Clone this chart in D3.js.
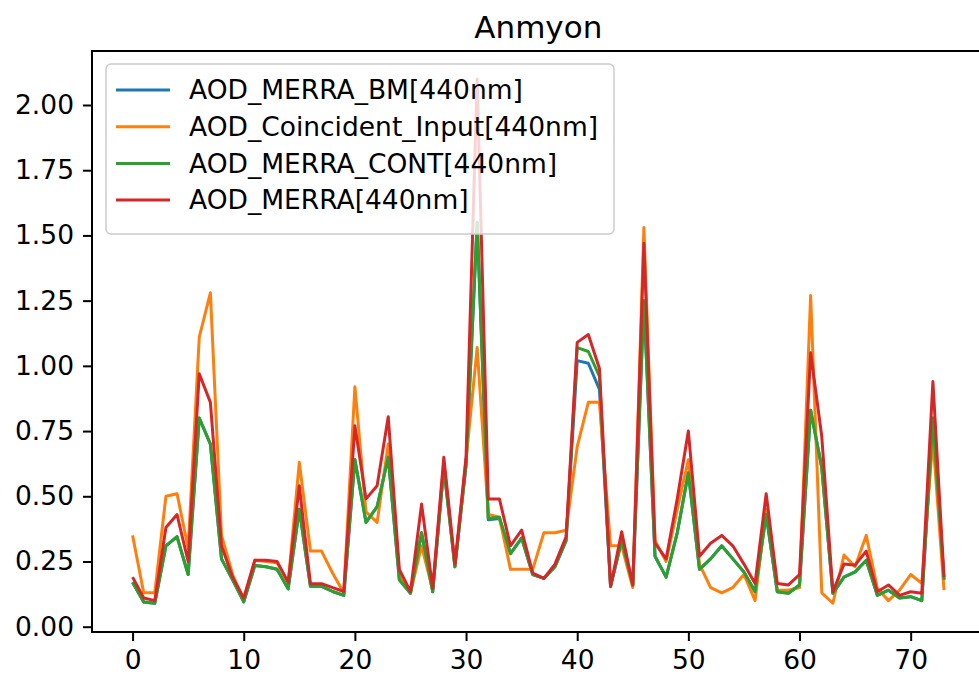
<!DOCTYPE html>
<html>
<head>
<meta charset="utf-8">
<script src="https://cdn.jsdelivr.net/npm/d3@7"></script>
<style>
  body { margin: 0; background: #fff; }
  svg { display: block; font-family: "DejaVu Sans", sans-serif; }
</style>
</head>
<body>
<svg width="979" height="677"></svg>
<script>
const title = "Anmyon";
const seriesNames = ["AOD_MERRA_BM[440nm]", "AOD_Coincident_Input[440nm]", "AOD_MERRA_CONT[440nm]", "AOD_MERRA[440nm]"];
const seriesColors = ["#1f77b4", "#ff7f0e", "#2ca02c", "#d62728"];
const xTicks = [0, 10, 20, 30, 40, 50, 60, 70];
const yTicks = [0, 0.25, 0.5, 0.75, 1, 1.25, 1.5, 1.75, 2];

const merraBM = [0.17, 0.095, 0.09, 0.31, 0.345, 0.20, 0.80, 0.70, 0.26, 0.18,
    0.095, 0.235, 0.23, 0.22, 0.145, 0.45, 0.155, 0.155, 0.135, 0.12,
    0.64, 0.40, 0.46, 0.65, 0.18, 0.128, 0.36, 0.134, 0.61, 0.23,
    0.62, 1.55, 0.41, 0.415, 0.28, 0.34, 0.20, 0.185, 0.23, 0.33,
    1.02, 1.01, 0.91, 0.155, 0.33, 0.16, 1.25, 0.27, 0.19, 0.36,
    0.59, 0.22, 0.26, 0.31, 0.26, 0.21, 0.134, 0.43, 0.134, 0.128,
    0.16, 0.83, 0.61, 0.128, 0.19, 0.21, 0.255, 0.12, 0.14, 0.11,
    0.115, 0.10, 0.80, 0.18];
const coincident = [0.35, 0.13, 0.13, 0.50, 0.51, 0.30, 1.11, 1.28, 0.35, 0.20,
    0.10, 0.255, 0.25, 0.245, 0.17, 0.63, 0.29, 0.29, 0.205, 0.13,
    0.92, 0.44, 0.40, 0.70, 0.20, 0.13, 0.31, 0.14, 0.63, 0.23,
    0.64, 1.07, 0.43, 0.42, 0.22, 0.22, 0.22, 0.36, 0.36, 0.37,
    0.69, 0.86, 0.86, 0.31, 0.31, 0.15, 1.53, 0.33, 0.25, 0.45,
    0.64, 0.24, 0.15, 0.13, 0.15, 0.20, 0.10, 0.45, 0.14, 0.14,
    0.15, 1.27, 0.13, 0.09, 0.275, 0.23, 0.35, 0.147, 0.10, 0.14,
    0.20, 0.166, 0.72, 0.14];
const merraCONT = [0.17, 0.095, 0.09, 0.31, 0.345, 0.20, 0.80, 0.70, 0.26, 0.18,
    0.095, 0.235, 0.23, 0.22, 0.145, 0.45, 0.155, 0.155, 0.135, 0.12,
    0.64, 0.40, 0.46, 0.65, 0.18, 0.128, 0.36, 0.134, 0.61, 0.23,
    0.62, 1.55, 0.415, 0.42, 0.28, 0.34, 0.20, 0.185, 0.23, 0.33,
    1.07, 1.055, 0.96, 0.155, 0.33, 0.16, 1.25, 0.27, 0.19, 0.36,
    0.59, 0.22, 0.26, 0.31, 0.26, 0.21, 0.134, 0.43, 0.134, 0.128,
    0.16, 0.83, 0.61, 0.128, 0.19, 0.21, 0.255, 0.12, 0.14, 0.11,
    0.115, 0.10, 0.80, 0.18];
const merra = [0.19, 0.11, 0.10, 0.38, 0.43, 0.25, 0.97, 0.86, 0.31, 0.19,
    0.11, 0.255, 0.255, 0.25, 0.17, 0.54, 0.165, 0.165, 0.15, 0.135,
    0.77, 0.49, 0.54, 0.805, 0.22, 0.134, 0.47, 0.147, 0.65, 0.24,
    0.65, 2.10, 0.49, 0.49, 0.31, 0.37, 0.205, 0.185, 0.24, 0.345,
    1.09, 1.12, 0.99, 0.153, 0.364, 0.16, 1.47, 0.32, 0.26, 0.49,
    0.75, 0.27, 0.32, 0.35, 0.31, 0.24, 0.166, 0.51, 0.166, 0.16,
    0.20, 1.05, 0.73, 0.134, 0.24, 0.236, 0.29, 0.134, 0.16, 0.12,
    0.134, 0.128, 0.94, 0.19];

const series = [merraBM, coincident, merraCONT, merra];

const plotLeft = 92, plotRight = 984.6, plotTop = 51, plotBottom = 632;
const fontSize = 26.5;
const lineWidth = 3;

const svg = d3.select("svg");

var xScale = d3.scaleLinear()
    .domain([-3.65, 76.65])
    .range([plotLeft, plotRight]);
var yScale = d3.scaleLinear()
    .domain([-0.0203, 2.207])
    .range([plotBottom, plotTop]);

var line = d3.line()
    .x(function (d, i) { return xScale(i); })
    .y(function (d) { return yScale(d); });

svg.append("g")
    .selectAll("path")
    .data(series)
    .enter()
    .append("path")
    .attr("d", line)
    .attr("fill", "none")
    .attr("stroke", function (d, i) { return seriesColors[i]; })
    .attr("stroke-width", lineWidth)
    .attr("stroke-linejoin", "round");

// frame
svg.append("rect")
    .attr("x", plotLeft)
    .attr("y", plotTop)
    .attr("width", plotRight - plotLeft)
    .attr("height", plotBottom - plotTop)
    .attr("fill", "none")
    .attr("stroke", "#000")
    .attr("stroke-width", 2);

var xAxis = d3.axisBottom(xScale)
    .tickValues(xTicks)
    .tickSize(9)
    .tickPadding(9)
    .tickFormat(d3.format("d"));
var yAxis = d3.axisLeft(yScale)
    .tickValues(yTicks)
    .tickSize(9)
    .tickPadding(9)
    .tickFormat(d3.format(".2f"));

var gx = svg.append("g")
    .attr("transform", "translate(0," + plotBottom + ")")
    .call(xAxis);
var gy = svg.append("g")
    .attr("transform", "translate(" + plotLeft + ",0)")
    .call(yAxis);

[gx, gy].forEach(function (g) {
    g.select(".domain").remove();
    g.selectAll(".tick line").attr("stroke", "#000").attr("stroke-width", 2);
    g.selectAll(".tick text")
        .attr("fill", "#000")
        .style("font-family", "DejaVu Sans")
        .style("font-size", fontSize + "px");
});

svg.append("text")
    .attr("x", (plotLeft + plotRight) / 2)
    .attr("y", 38)
    .attr("text-anchor", "middle")
    .style("font-size", "31px")
    .text(title);

// legend
var legend = svg.append("g");
legend.append("rect")
    .attr("x", 106)
    .attr("y", 64)
    .attr("width", 508)
    .attr("height", 170)
    .attr("rx", 5)
    .attr("fill", "#fff")
    .attr("fill-opacity", 0.8)
    .attr("stroke", "#cccccc")
    .attr("stroke-width", 1.5);

var rows = legend.selectAll("g.row")
    .data(seriesNames)
    .enter()
    .append("g")
    .attr("transform", function (d, i) { return "translate(0," + (90 + i * 36.7) + ")"; });
rows.append("line")
    .attr("x1", 116)
    .attr("x2", 170)
    .attr("stroke", function (d, i) { return seriesColors[i]; })
    .attr("stroke-width", lineWidth);
rows.append("text")
    .attr("x", 189)
    .attr("dy", "0.35em")
    .style("font-size", fontSize + "px")
    .text(function (d) { return d; });
</script>
</body>
</html>
